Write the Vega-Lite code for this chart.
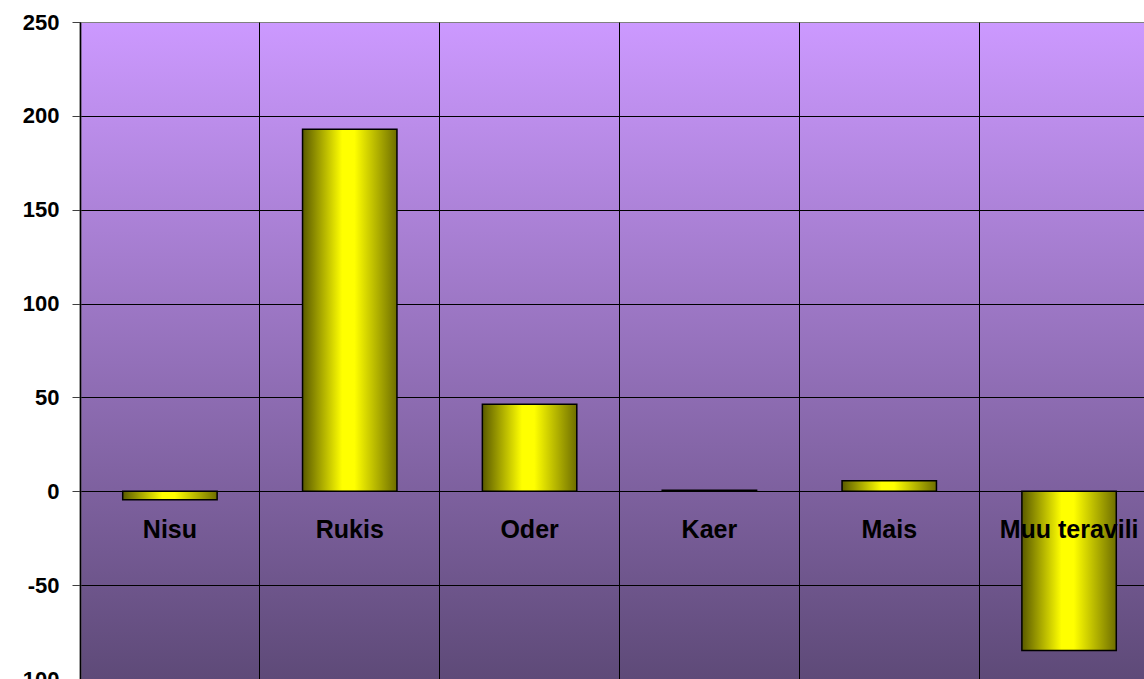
{
  "$schema": "https://vega.github.io/schema/vega-lite/v6.json",
  "autosize": {"type": "none"},
  "padding": {"left": 80, "top": 22, "right": 0, "bottom": 0},
  "width": 1064,
  "height": 657,
  "background": "white",
  "config": {
    "view": {
      "stroke": null,
      "fill": {
        "gradient": "linear",
        "x1": 0, "y1": 0, "x2": 0, "y2": 1,
        "stops": [
          {"offset": 0, "color": "#CC99FF"},
          {"offset": 1, "color": "#5E4A78"}
        ]
      }
    },
    "font": "Liberation Sans"
  },
  "data": {
    "values": [
      {"kultuur": "Nisu", "muutus": -4.5},
      {"kultuur": "Rukis", "muutus": 192.8},
      {"kultuur": "Oder", "muutus": 46.3},
      {"kultuur": "Kaer", "muutus": 0.6},
      {"kultuur": "Mais", "muutus": 5.6},
      {"kultuur": "Muu teravili", "muutus": -84.8}
    ]
  },
  "mark": {
    "type": "bar",
    "width": {"band": 0.525},
    "stroke": "black",
    "strokeWidth": 1.5,
    "fill": {
      "gradient": "linear",
      "x1": 0, "y1": 0, "x2": 1, "y2": 0,
      "stops": [
        {"offset": 0, "color": "#5A5A00"},
        {"offset": 0.42, "color": "#FFFF00"},
        {"offset": 0.55, "color": "#FFFF00"},
        {"offset": 1, "color": "#6E6E00"}
      ]
    }
  },
  "encoding": {
    "x": {
      "field": "kultuur",
      "type": "nominal",
      "sort": null,
      "scale": {"range": [0, 1079], "paddingInner": 0, "paddingOuter": 0},
      "axis": {
        "title": null,
        "orient": "bottom",
        "offset": -188,
        "domain": false,
        "ticks": false,
        "labelAngle": 0,
        "labelFont": "Liberation Sans",
        "labelFontSize": 25,
        "labelFontWeight": "bold",
        "labelColor": "black",
        "labelPadding": 26,
        "labelOverlap": false,
        "labelBound": false,
        "grid": true,
        "bandPosition": 0,
        "gridColor": "black",
        "gridOpacity": 1,
        "gridWidth": 1,
        "zindex": 1
      }
    },
    "y": {
      "field": "muutus",
      "type": "quantitative",
      "scale": {"domain": [-100, 250], "nice": false, "zero": false},
      "axis": {
        "title": null,
        "values": [-100, -50, 0, 50, 100, 150, 200, 250],
        "labelExpr": "'' + datum.value",
        "labelFont": "Liberation Sans",
        "labelFontSize": 22,
        "labelFontWeight": "bold",
        "labelColor": "black",
        "labelPadding": 13,
        "tickSize": 8,
        "tickColor": "#404040",
        "domainColor": "#404040",
        "domainWidth": 2,
        "grid": true,
        "gridColor": {"condition": {"test": "datum.value == 250", "value": "#808080"}, "value": "black"},
        "gridOpacity": 1,
        "gridWidth": 1,
        "zindex": 0
      }
    }
  }
}
